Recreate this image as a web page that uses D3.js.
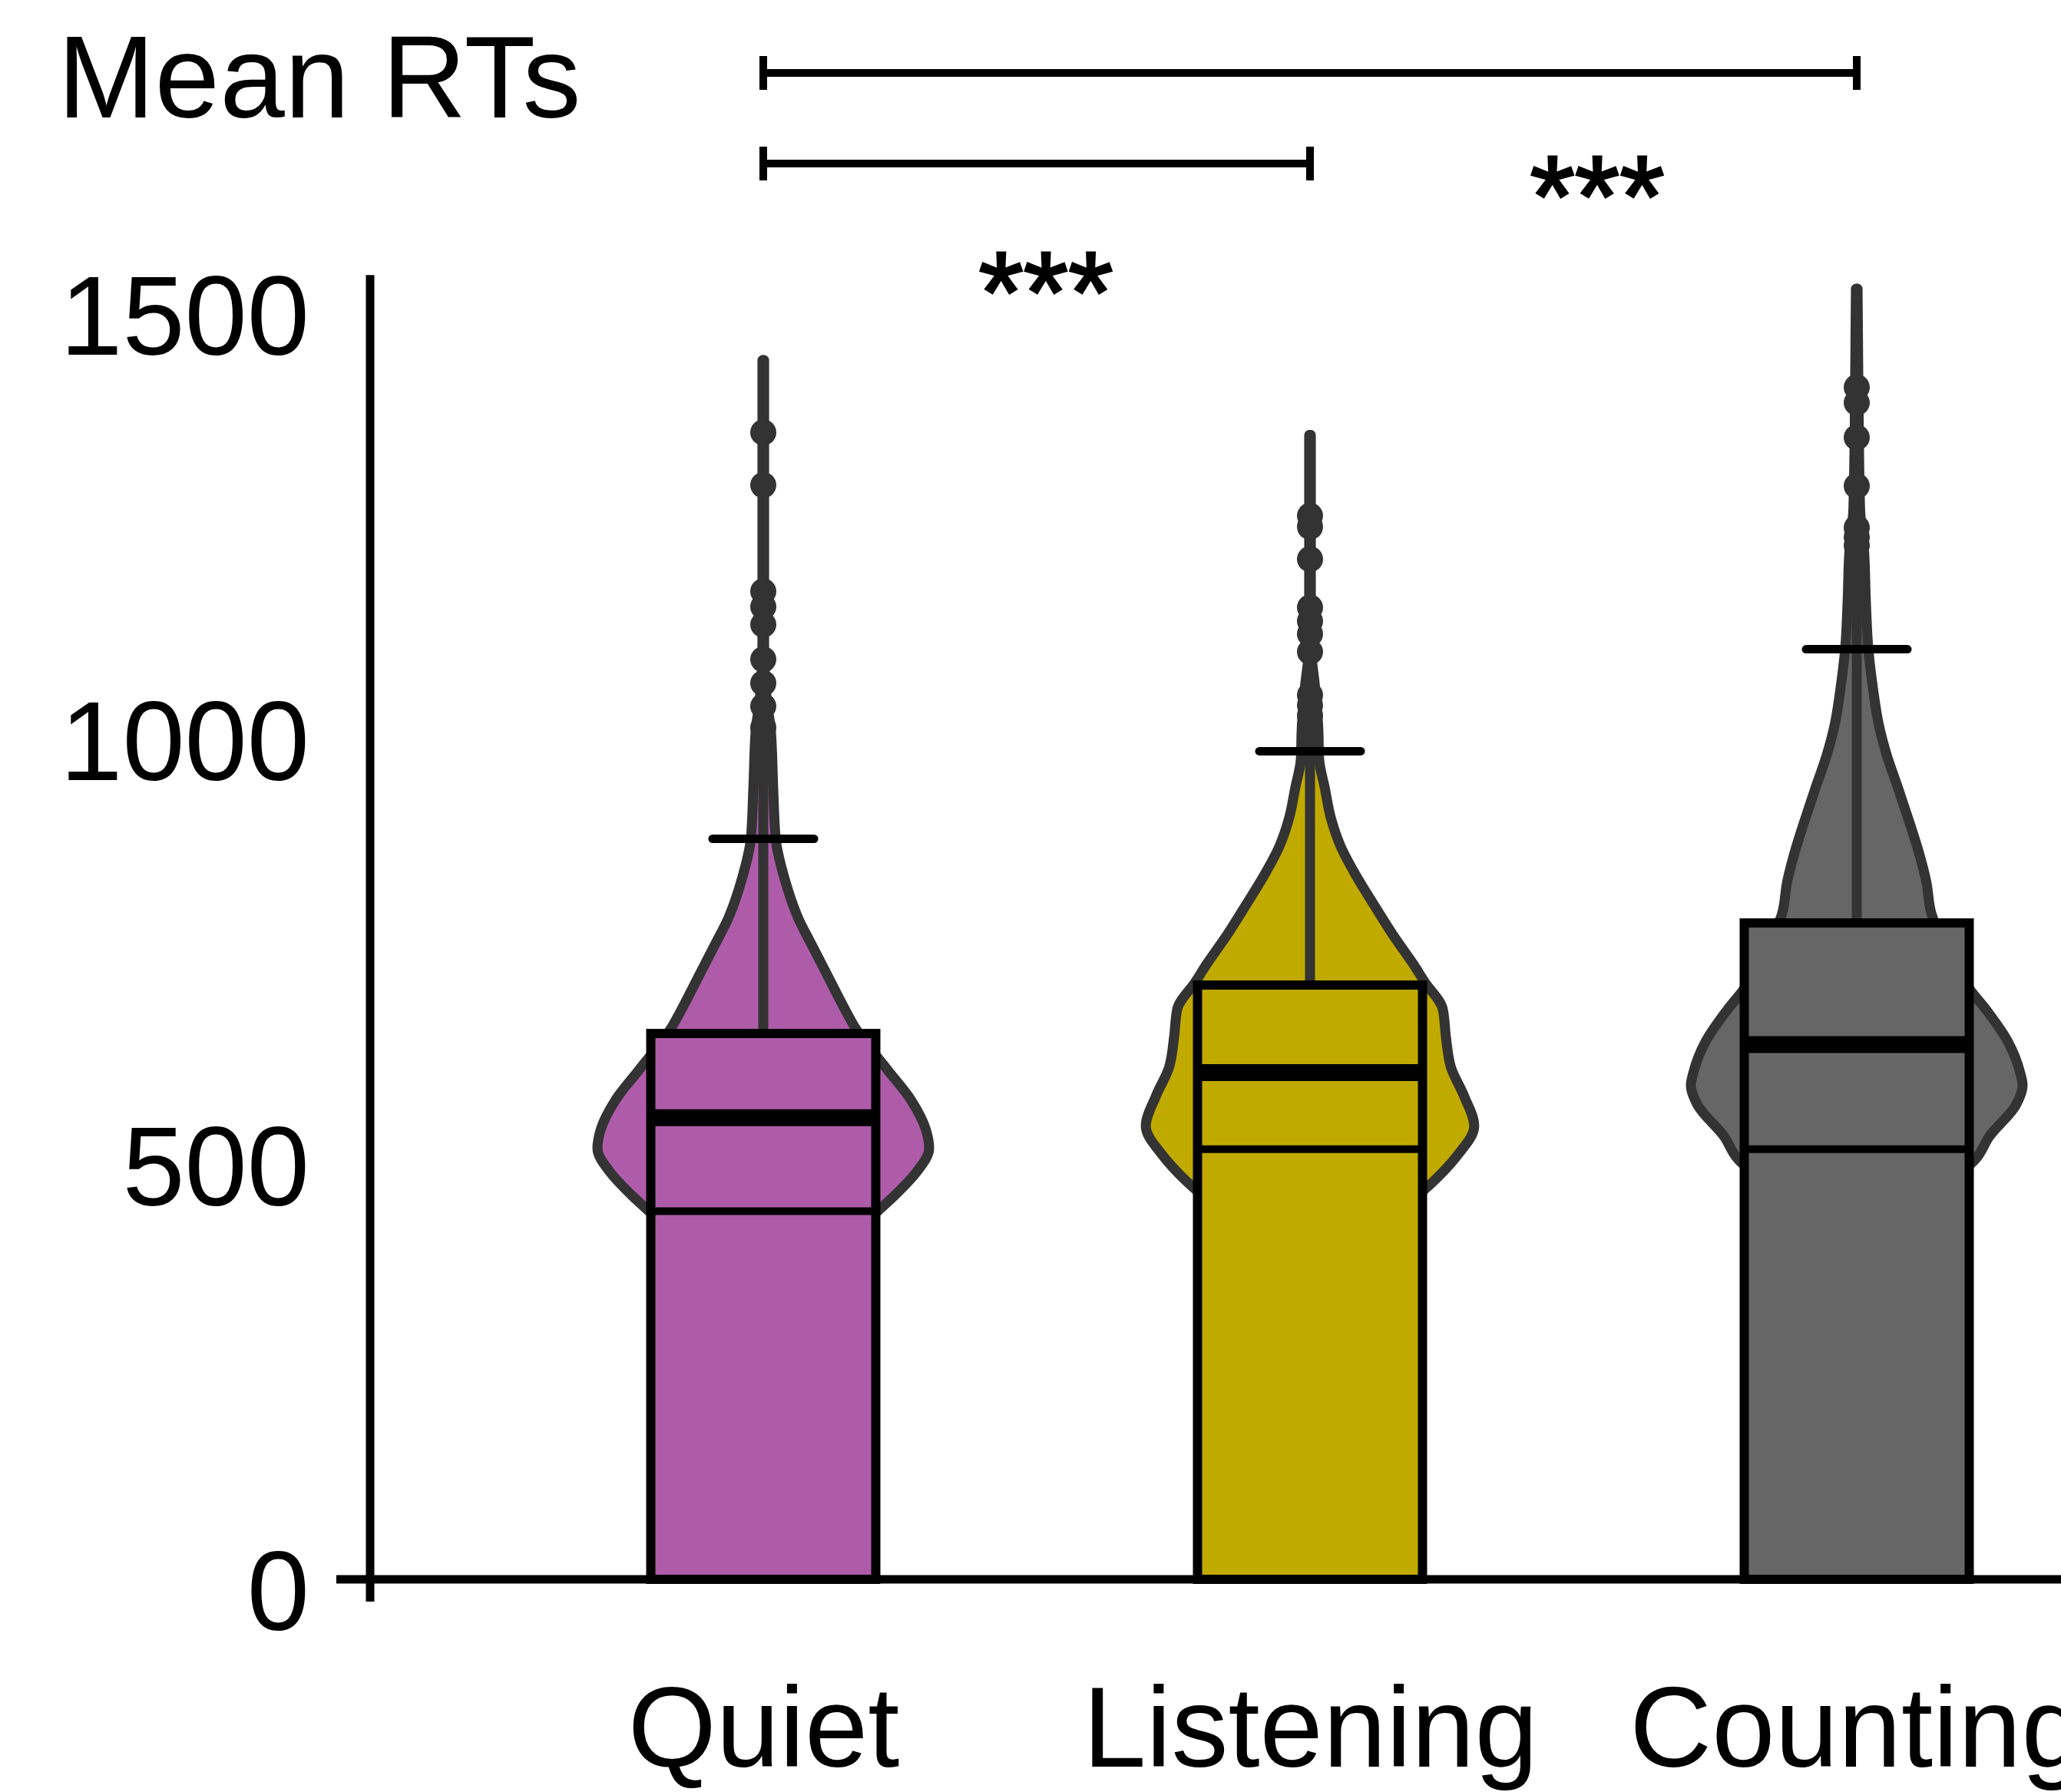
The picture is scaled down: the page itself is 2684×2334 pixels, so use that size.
<!DOCTYPE html>
<html>
<head>
<meta charset="utf-8">
<script src="https://cdn.jsdelivr.net/npm/d3@7"></script>
<style>
  html, body { margin: 0; padding: 0; background: #fff; }
  svg { display: block; }
  text { font-family: "Liberation Sans", Arial, Helvetica, sans-serif; fill: #000; }
</style>
</head>
<body>
<div id="canvas"></div>
<script>
// ---- data ----
const categories = ["Quiet", "Listening", "Counting"];
const fillColors = ["#ae5ca9", "#c1aa00", "#666666"];

const barTops  = [642, 699, 772];     // top of the box/bar
const medians  = [543, 596, 629];     // thick line
const lowers   = [433, 506, 506];     // thin line
const caps     = [871, 974, 1094];    // whisker cap
const maxima   = [1434, 1346, 1518];  // end of the stick

const quietOutliers     = [1349, 1287, 1162, 1144, 1123, 1082, 1054, 1027, 1002, 985, 968];
const listeningOutliers = [1251, 1238, 1200, 1143, 1127, 1112, 1091, 1040, 1028, 1016, 1004, 992, 982];
const countingOutliers  = [1402, 1384, 1343, 1286, 1237, 1226, 1216];

// [RT, relative density] pairs, top to bottom
const quietDensity = [
  [1434, 0.005], [1100, 0.005], [1035, 0.02], [1000, 0.045], [930, 0.06],
  [871, 0.075], [823, 0.13], [778, 0.21], [747, 0.29], [713, 0.38], [675, 0.48],
  [647, 0.56], [599, 0.75], [564, 0.89], [529, 0.98], [507, 1.0], [478, 0.92],
  [453, 0.80], [433, 0.69], [400, 0.51], [360, 0.28], [320, 0.12], [280, 0.02]
];
const listeningDensity = [
  [1346, 0.005], [1100, 0.005], [1050, 0.03], [1000, 0.05], [965, 0.055], [930, 0.09],
  [896, 0.125], [862, 0.185], [827, 0.28], [792, 0.39], [758, 0.50], [723, 0.625],
  [703, 0.69], [671, 0.80], [637, 0.82], [602, 0.85], [568, 0.93], [533, 0.99],
  [499, 0.89], [471, 0.76], [440, 0.58], [400, 0.32], [360, 0.14], [320, 0.02]
];
const countingDensity = [
  [1518, 0.005], [1400, 0.01], [1260, 0.02], [1207, 0.045], [1150, 0.055],
  [1094, 0.07], [1045, 0.10], [1008, 0.13], [970, 0.18], [933, 0.245], [895, 0.31],
  [858, 0.37], [820, 0.42], [783, 0.45], [740, 0.55], [693, 0.685], [670, 0.78],
  [633, 0.91], [596, 0.985], [581, 1.0], [558, 0.96], [521, 0.80], [495, 0.72],
  [460, 0.51], [420, 0.28], [380, 0.12], [340, 0.02]
];
const densities = [quietDensity, listeningDensity, countingDensity];
const outliers = [quietOutliers, listeningOutliers, countingOutliers];

const yTicks = [0, 500, 1000, 1500];
const titleText = "Mean RTs";
const comparisons = [
  { from: "Quiet", to: "Counting",  label: "***" },
  { from: "Quiet", to: "Listening", label: "***" }
];

// ---- layout ----
const w = 2684, h = 2334;
const axisX = 482;
const fontStack = "'Liberation Sans', Arial, Helvetica, sans-serif";

const svg = d3.select("#canvas")
  .append("svg")
    .attr("width", w)
    .attr("height", h)
    .attr("viewBox", [0, 0, w, h]);

svg.append("rect").attr("width", w).attr("height", h).attr("fill", "#fff");

const x = d3.scalePoint()
  .domain(categories)
  .range([994, 2418]);

const y = d3.scaleLinear()
  .domain([0, 1500])
  .range([2057, 396]);

const widthScale = d3.scaleLinear().domain([0, 1]).range([0, 216]);
const boxHalf = 146.5;
const capHalf = 66;

const groups = svg.append("g")
  .selectAll("g")
  .data(categories)
  .enter().append("g");

groups.each(function (cat, i) {
  const g = d3.select(this);
  const cx = x(cat);

  const violin = d3.area()
    .curve(d3.curveMonotoneY)
    .y(d => y(d[0]))
    .x0(d => cx - widthScale(d[1]))
    .x1(d => cx + widthScale(d[1]));

  g.append("path")
    .datum(densities[i])
    .attr("d", violin)
    .attr("fill", fillColors[i])
    .attr("stroke", "#333")
    .attr("stroke-width", 13)
    .attr("stroke-linejoin", "round");

  // stick
  g.append("line")
    .attr("x1", cx).attr("x2", cx)
    .attr("y1", y(barTops[i])).attr("y2", y(maxima[i]))
    .attr("stroke", "#333")
    .attr("stroke-width", 13)
    .attr("stroke-linecap", "round");

  g.selectAll("circle")
    .data(outliers[i])
    .enter().append("circle")
      .attr("cx", cx)
      .attr("cy", d => y(d))
      .attr("r", 17)
      .attr("fill", "#333");

  // cap
  g.append("line")
    .attr("x1", cx - capHalf).attr("x2", cx + capHalf)
    .attr("y1", y(caps[i])).attr("y2", y(caps[i]))
    .attr("stroke", "#000")
    .attr("stroke-width", 11)
    .attr("stroke-linecap", "round");

  // bar / box
  g.append("rect")
    .attr("x", cx - boxHalf)
    .attr("y", y(barTops[i]))
    .attr("width", boxHalf * 2)
    .attr("height", y(0) - y(barTops[i]))
    .attr("fill", fillColors[i])
    .attr("stroke", "#000")
    .attr("stroke-width", 12);

  g.append("line")
    .attr("x1", cx - boxHalf).attr("x2", cx + boxHalf)
    .attr("y1", y(medians[i])).attr("y2", y(medians[i]))
    .attr("stroke", "#000")
    .attr("stroke-width", 22);

  g.append("line")
    .attr("x1", cx - boxHalf).attr("x2", cx + boxHalf)
    .attr("y1", y(lowers[i])).attr("y2", y(lowers[i]))
    .attr("stroke", "#000")
    .attr("stroke-width", 10);
});

// ---- axes ----
const yAxis = d3.axisLeft(y)
  .tickValues(yTicks)
  .tickFormat(d3.format("d"))
  .tickSize(0)
  .tickPadding(79);

const gY = svg.append("g")
  .attr("transform", "translate(" + axisX + ",0)")
  .call(yAxis);
gY.select(".domain").remove();
gY.selectAll("text")
  .attr("dy", "0.45em")
  .style("font-size", "146px")
  .style("font-family", fontStack)
  .attr("fill", "#000");

const xAxis = d3.axisBottom(x)
  .tickSize(0)
  .tickPadding(139);

const gX = svg.append("g")
  .attr("transform", "translate(0," + y(0) + ")")
  .call(xAxis);
gX.select(".domain").remove();
gX.selectAll("text")
  .style("font-size", "148px")
  .style("font-family", fontStack)
  .attr("fill", "#000");

svg.append("line")
  .attr("x1", axisX).attr("x2", axisX)
  .attr("y1", y(1534)).attr("y2", y(0) + 29)
  .attr("stroke", "#000")
  .attr("stroke-width", 11);

svg.append("line")
  .attr("x1", 438).attr("x2", w)
  .attr("y1", y(0)).attr("y2", y(0))
  .attr("stroke", "#000")
  .attr("stroke-width", 11);

// ---- title and significance brackets ----
svg.append("text")
  .attr("x", 75)
  .attr("y", 153)
  .style("font-size", "152px")
  .text(titleText);

const bracketRows = [95, 213];
const starPos = [[2080, 308], [1362, 433]];

comparisons.forEach((c, i) => {
  const yy = bracketRows[i];
  const x1 = x(c.from), x2 = x(c.to);
  svg.append("path")
    .attr("d", "M" + x1 + "," + (yy - 22) + "V" + (yy + 22) +
               "M" + x1 + "," + yy + "H" + x2 +
               "M" + x2 + "," + (yy - 22) + "V" + (yy + 22))
    .attr("fill", "none")
    .attr("stroke", "#000")
    .attr("stroke-width", 10);

  svg.append("text")
    .attr("x", starPos[i][0])
    .attr("y", starPos[i][1])
    .attr("text-anchor", "middle")
    .attr("stroke", "#000")
    .attr("stroke-width", 3)
    .style("font-size", "150px")
    .text(c.label);
});
</script>
</body>
</html>
